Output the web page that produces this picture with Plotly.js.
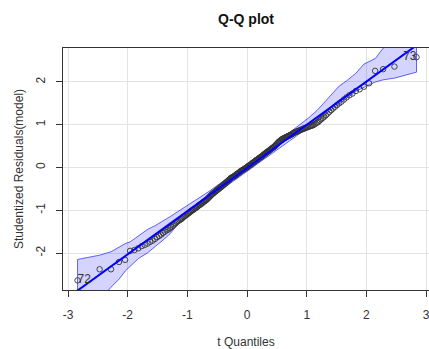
<!DOCTYPE html>
<html>
<head>
<meta charset="utf-8">
<script src="https://cdn.plot.ly/plotly-3.0.1.min.js"></script>
<style>html,body{margin:0;padding:0;background:#fff;overflow:hidden}#chart{width:429px;height:349px}</style>
</head>
<body>
<div id="chart"></div>
<script>
// theoretical t quantiles (x) and studentized residuals (y)
const tQuantiles = [
-2.84,-2.47,-2.28,-2.146,-2.044,-1.96,-1.887,-1.824,-1.766,-1.715,
-1.668,-1.624,-1.582,-1.543,-1.507,-1.472,-1.44,-1.408,-1.378,-1.349,
-1.321,-1.294,-1.269,-1.243,-1.219,-1.196,-1.173,-1.15,-1.128,-1.107,
-1.087,-1.066,-1.047,-1.027,-1.008,-0.989,-0.97,-0.952,-0.935,-0.917,
-0.9,-0.883,-0.866,-0.85,-0.833,-0.817,-0.801,-0.786,-0.771,-0.755,
-0.74,-0.725,-0.711,-0.696,-0.682,-0.667,-0.653,-0.639,-0.625,-0.611,
-0.598,-0.584,-0.571,-0.557,-0.544,-0.531,-0.518,-0.505,-0.492,-0.479,
-0.467,-0.454,-0.441,-0.429,-0.416,-0.404,-0.392,-0.38,-0.367,-0.355,
-0.343,-0.331,-0.319,-0.307,-0.295,-0.283,-0.272,-0.26,-0.248,-0.236,
-0.225,-0.213,-0.201,-0.19,-0.178,-0.166,-0.155,-0.143,-0.132,-0.12,
-0.108,-0.097,-0.086,-0.074,-0.063,-0.051,-0.04,-0.029,-0.017,-0.006,
0.006,0.017,0.029,0.04,0.051,0.063,0.074,0.086,0.097,0.108,
0.12,0.132,0.143,0.155,0.166,0.178,0.19,0.201,0.213,0.225,
0.236,0.248,0.26,0.272,0.283,0.295,0.307,0.319,0.331,0.343,
0.355,0.367,0.38,0.392,0.404,0.416,0.429,0.441,0.454,0.467,
0.479,0.492,0.505,0.518,0.531,0.544,0.557,0.571,0.584,0.598,
0.611,0.625,0.639,0.653,0.667,0.682,0.696,0.711,0.725,0.74,
0.755,0.771,0.786,0.801,0.817,0.833,0.85,0.866,0.883,0.9,
0.917,0.935,0.952,0.97,0.989,1.008,1.027,1.047,1.066,1.087,
1.107,1.128,1.15,1.173,1.196,1.219,1.243,1.269,1.294,1.321,
1.349,1.378,1.408,1.44,1.472,1.507,1.543,1.582,1.624,1.668,
1.715,1.766,1.824,1.887,1.96,2.044,2.146,2.28,2.47,2.84
];
const residuals = [
-2.64,-2.38,-2.38,-2.21,-2.16,-1.95,-1.93,-1.89,-1.84,-1.81,
-1.78,-1.74,-1.71,-1.67,-1.63,-1.60,-1.57,-1.53,-1.50,-1.47,
-1.45,-1.42,-1.39,-1.36,-1.33,-1.30,-1.27,-1.25,-1.23,-1.21,
-1.19,-1.16,-1.14,-1.12,-1.10,-1.08,-1.06,-1.04,-1.02,-1.00,
-0.99,-0.97,-0.95,-0.94,-0.92,-0.90,-0.88,-0.87,-0.85,-0.84,
-0.82,-0.80,-0.79,-0.77,-0.76,-0.74,-0.72,-0.70,-0.68,-0.66,
-0.64,-0.62,-0.61,-0.59,-0.58,-0.56,-0.55,-0.53,-0.52,-0.50,
-0.49,-0.47,-0.46,-0.45,-0.43,-0.42,-0.40,-0.39,-0.37,-0.36,
-0.34,-0.33,-0.31,-0.30,-0.28,-0.27,-0.25,-0.24,-0.23,-0.22,
-0.21,-0.20,-0.19,-0.18,-0.16,-0.15,-0.14,-0.13,-0.12,-0.10,
-0.09,-0.08,-0.07,-0.06,-0.05,-0.04,-0.03,-0.02,-0.01,0.00,
0.01,0.03,0.04,0.05,0.06,0.07,0.08,0.10,0.11,0.12,
0.13,0.14,0.16,0.17,0.18,0.19,0.20,0.22,0.23,0.24,
0.25,0.26,0.28,0.29,0.30,0.32,0.33,0.34,0.36,0.37,
0.38,0.39,0.41,0.42,0.43,0.45,0.46,0.47,0.49,0.50,
0.52,0.54,0.56,0.58,0.60,0.61,0.63,0.64,0.66,0.67,
0.68,0.69,0.70,0.71,0.72,0.73,0.74,0.75,0.76,0.77,
0.78,0.80,0.81,0.82,0.83,0.84,0.85,0.86,0.87,0.88,
0.89,0.90,0.91,0.92,0.93,0.94,0.95,0.96,0.97,0.98,
0.99,1.01,1.03,1.05,1.07,1.10,1.13,1.16,1.19,1.22,
1.26,1.30,1.34,1.38,1.42,1.46,1.50,1.54,1.59,1.64,
1.69,1.73,1.79,1.83,1.89,1.97,2.26,2.30,2.36,2.58
];
// labelled outlying observations
const outlierIds = ["72", "73"];
const outlierX = [-2.84, 2.84];
const outlierY = [-2.64, 2.58];
// confidence envelope
const envX = [-2.84,-2.47,-2.28,-2.15,-2.04,-1.96,-1.82,-1.67,-1.54,-1.41,-1.29,-1.17,-1.03,-0.90,-0.77,-0.64,-0.50,-0.37,-0.25,-0.12,0,0.12,0.25,0.37,0.50,0.64,0.77,0.90,1.03,1.17,1.29,1.41,1.54,1.67,1.82,1.96,2.04,2.15,2.28,2.47,2.84];
const envUpper = [-2.15,-2.05,-1.97,-1.86,-1.78,-1.74,-1.60,-1.45,-1.36,-1.24,-1.15,-1.04,-0.92,-0.80,-0.68,-0.56,-0.42,-0.30,-0.18,-0.06,0.07,0.19,0.32,0.45,0.59,0.74,0.88,1.01,1.16,1.33,1.52,1.72,1.90,2.03,2.20,2.42,2.47,2.55,2.79,3.05,3.55];
const envLower = [-3.60,-3.10,-2.80,-2.62,-2.42,-2.33,-2.13,-2.00,-1.84,-1.70,-1.55,-1.35,-1.17,-1.01,-0.87,-0.73,-0.58,-0.45,-0.32,-0.19,-0.07,0.05,0.18,0.30,0.42,0.55,0.68,0.81,0.93,1.08,1.22,1.36,1.49,1.62,1.78,1.87,1.93,2.00,2.05,2.09,2.23];
// reference line
const lineIntercept = -0.01;
const lineSlope = 1.01;
const xTicks = [-3,-2,-1,0,1,2,3];
const yTicks = [-2,-1,0,1,2];

const xRange = [-3.084, 3.049];
const yRange = [-2.865, 2.795];

const polyX = envX.concat(envX.slice().reverse()).concat([envX[0]]);
const polyY = envUpper.concat(envLower.slice().reverse()).concat([envUpper[0]]);
const lineX = [xRange[0] - 0.5, xRange[1] + 0.5];
const lineY = lineX.map(v => lineIntercept + lineSlope * v);

const FONT = 'Arial, "Liberation Sans", sans-serif';

const traces = [
  {x: polyX, y: polyY, mode: 'lines', fill: 'toself',
   fillcolor: 'rgba(0,0,255,0.17)', line: {color: 'rgba(0,0,255,0.75)', width: 0.8},
   hoverinfo: 'skip', showlegend: false},
  {x: tQuantiles, y: residuals, mode: 'markers',
   marker: {symbol: 'circle-open', size: 5.5, color: '#333333', line: {width: 0.9}},
   showlegend: false},
  {x: lineX, y: lineY, mode: 'lines', line: {color: '#0000ff', width: 2}, showlegend: false},
  {x: outlierX, y: outlierY, mode: 'text', text: outlierIds,
   textposition: ['middle right', 'middle left'],
   textfont: {family: FONT, size: 12, color: '#333333'}, showlegend: false}
];

const layout = {
  width: 429, height: 349,
  margin: {l: 63, r: 0, t: 48, b: 59, pad: 0},
  paper_bgcolor: '#ffffff', plot_bgcolor: '#ffffff',
  font: {family: FONT, size: 12, color: '#333333'},
  title: {text: '<b>Q-Q plot</b>', x: 0.5, xref: 'paper', xanchor: 'center',
          y: 1 - 19/349, yref: 'container', yanchor: 'middle',
          font: {family: FONT, size: 14, color: '#111111'}},
  xaxis: {range: xRange, tickvals: xTicks, ticktext: xTicks.map(String),
          showgrid: true, gridcolor: '#e3e3e3', gridwidth: 1, zeroline: false,
          showline: true, linecolor: '#333333', linewidth: 1, mirror: true,
          ticks: 'outside', ticklen: 6, tickcolor: '#333333', tickwidth: 1,
          ticklabelstandoff: 8, ticklabeloverflow: 'allow',
          tickfont: {family: FONT, size: 12, color: '#333333'},
          title: {text: 't Quantiles', standoff: 17, font: {family: FONT, size: 12, color: '#333333'}}},
  yaxis: {range: yRange, tickvals: yTicks, ticktext: yTicks.map(String),
          showgrid: true, gridcolor: '#e3e3e3', gridwidth: 1, zeroline: false,
          showline: true, linecolor: '#333333', linewidth: 1, mirror: false,
          ticks: 'outside', ticklen: 6, tickcolor: '#333333', tickwidth: 1,
          tickangle: -90, ticklabelstandoff: 6, ticklabeloverflow: 'allow',
          tickfont: {family: FONT, size: 12, color: '#333333'},
          title: {text: 'Studentized Residuals(model)', standoff: 8, font: {family: FONT, size: 12, color: '#333333'}}}
};

Plotly.newPlot('chart', traces, layout, {staticPlot: true, displayModeBar: false});
</script>
</body>
</html>
